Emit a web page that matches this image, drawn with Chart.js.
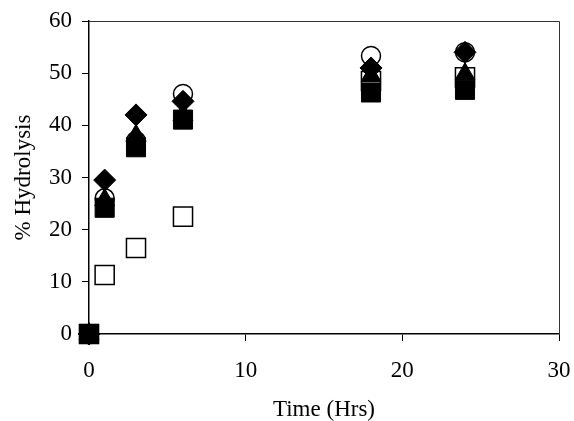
<!DOCTYPE html>
<html>
<head>
<meta charset="utf-8">
<script src="https://cdn.jsdelivr.net/npm/chart.js@4"></script>
<style>
  body { margin: 0; background: #fff; }
  #wrap { width: 574px; height: 421px; }
</style>
</head>
<body>
<div id="wrap"><canvas id="myChart"></canvas></div>
<script>
// time points (hrs)
const times = [0, 1, 3, 6, 18, 24]

// % hydrolysis per series
const openCircle   = [0, 26, 37, 46, 53.3, 54]
const filledDiamond = [0, 29.5, 42, 44.6, 51, 54]
const filledTriangle = [0, 25.7, 38, 42, 49.5, 49.8]
const filledSquare = [0, 24.2, 35.8, 41.1, 46.3, 46.8]
const openSquare   = [0, 11.3, 16.5, 22.5, 48.5, 49.2]

const xTicks = [0, 10, 20, 30]
const yTicks = [0, 10, 20, 30, 40, 50, 60]

function toPoints(values) {
    return times.map((t, i) => ({x: t, y: values[i]}))
}

const serif = 'Liberation Serif'

// box around the plot area
const frame = {
    id: 'frame',
    afterDraw(chart) {
        const {ctx, chartArea: a} = chart
        ctx.save()
        ctx.strokeStyle = '#333'
        ctx.lineWidth = 1
        ctx.beginPath()
        ctx.moveTo(a.left, a.top + 0.5)
        ctx.lineTo(a.right + 0.5, a.top + 0.5)
        ctx.lineTo(a.right + 0.5, a.bottom)
        ctx.stroke()
        ctx.restore()
    }
}

window.addEventListener('DOMContentLoaded', function () {
    const chart = document.querySelector('#myChart')

    // first dataset is drawn on top
    new Chart(chart, {
        type: 'scatter',
        data: {
            datasets: [
                {data: toPoints(filledSquare), pointStyle: 'rect', pointRadius: 13.5,
                    backgroundColor: '#000', borderColor: '#000', borderWidth: 1},
                {data: toPoints(filledTriangle), pointStyle: 'triangle', pointRadius: 11.5,
                    backgroundColor: '#000', borderColor: '#000', borderWidth: 1},
                {data: toPoints(filledDiamond), pointStyle: 'rectRot', pointRadius: 11,
                    backgroundColor: '#000', borderColor: '#000', borderWidth: 1},
                {data: toPoints(openCircle), pointStyle: 'circle', pointRadius: 9.5,
                    backgroundColor: '#fff', borderColor: '#000', borderWidth: 1.5},
                {data: toPoints(openSquare), pointStyle: 'rect', pointRadius: 13.5,
                    backgroundColor: '#fff', borderColor: '#000', borderWidth: 1.5},
            ].map(d => Object.assign(d, {clip: false, pointHoverRadius: d.pointRadius}))
        },
        options: {
            responsive: true,
            maintainAspectRatio: false,
            animation: false,
            layout: {padding: {top: 21, right: 15, left: 0, bottom: 0}},
            plugins: {legend: {display: false}, tooltip: {enabled: false}},
            scales: {
                x: {
                    type: 'linear',
                    min: 0,
                    max: 30,
                    afterBuildTicks: scale => { scale.ticks = xTicks.map(v => ({value: v})) },
                    afterFit: scale => {
                        scale.height = 87
                        scale.paddingRight = 0
                        scale.paddingLeft = 0
                    },
                    grid: {drawOnChartArea: false, tickLength: 7, color: '#000', lineWidth: 1},
                    border: {color: '#000', width: 1.5},
                    ticks: {color: '#000', padding: 16, font: {family: serif, size: 23}},
                    title: {display: true, text: 'Time (Hrs)', color: '#000',
                        font: {family: serif, size: 23, lineHeight: 1}, padding: {top: 0, bottom: 0}}
                },
                y: {
                    min: 0,
                    max: 60,
                    afterBuildTicks: scale => { scale.ticks = yTicks.map(v => ({value: v})) },
                    afterFit: scale => {
                        scale.width = 89
                        scale.paddingTop = 0
                        scale.paddingBottom = 0
                    },
                    grid: {drawOnChartArea: false, tickLength: 7, color: '#000', lineWidth: 1},
                    border: {color: '#000', width: 1.5},
                    ticks: {color: '#000', padding: 10, font: {family: serif, size: 23}},
                    title: {display: true, text: '% Hydrolysis', color: '#000',
                        font: {family: serif, size: 23, lineHeight: 1}, padding: {top: 12, bottom: 0}}
                }
            }
        },
        plugins: [frame]
    })
})
</script>
</body>
</html>
